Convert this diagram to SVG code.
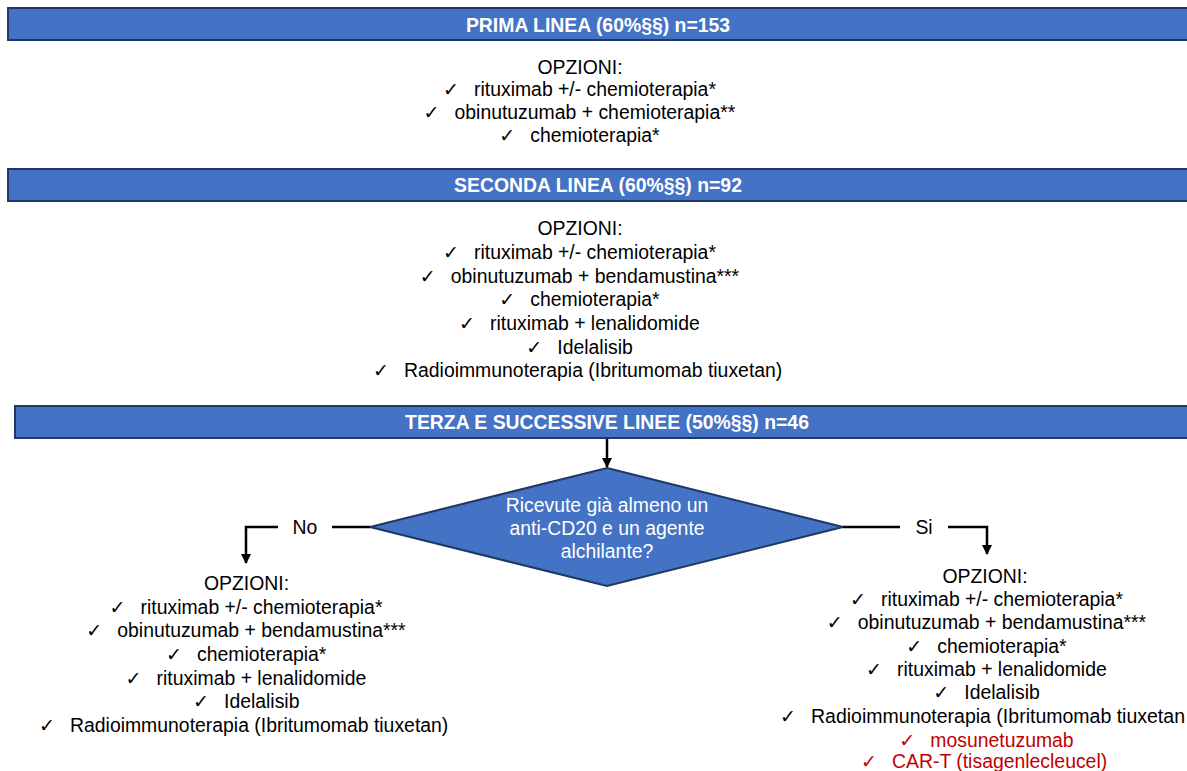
<svg xmlns="http://www.w3.org/2000/svg" width="1187" height="771" viewBox="0 0 1187 771">
<defs>
<marker id="arr" markerWidth="10" markerHeight="10" refX="9" refY="5" orient="auto" markerUnits="userSpaceOnUse">
<path d="M0,0 L10,5 L0,10 Z" fill="#000"/>
</marker>
<style>
.bar{fill:#4472C4;stroke:#1F3864;stroke-width:2}
.bt{font-family:"Liberation Sans",Arial,sans-serif;font-size:19.4px;font-weight:bold;fill:#fff;text-anchor:middle}
.t{font-family:"Liberation Sans",Arial,sans-serif;font-size:19.4px;fill:#000}
.c{font-family:"Liberation Sans",Arial,sans-serif;font-size:19.4px;fill:#000;text-anchor:middle}
.w{font-family:"Liberation Sans",Arial,sans-serif;font-size:19.4px;fill:#fff;text-anchor:middle}
.ck{font-family:"DejaVu Sans",sans-serif;font-size:19px;fill:#000}
.red{fill:#C00000}
.ln{fill:none;stroke:#000;stroke-width:2.5}
</style>
</defs>
<rect width="1187" height="771" fill="#fff"/>

<g id="bar1">
<rect class="bar" x="8" y="8" width="1190" height="32"/>
<text class="bt" x="598" y="32">PRIMA LINEA (60%§§) n=153</text>
</g>

<g id="options1">
<text class="c" x="580" y="74">OPZIONI:</text>
<text class="ck" x="443" y="96">✓</text><text class="t" x="474" y="96">rituximab +/- chemioterapia*</text>
<text class="ck" x="423.5" y="119">✓</text><text class="t" x="454.5" y="119">obinutuzumab + chemioterapia**</text>
<text class="ck" x="499.3" y="142">✓</text><text class="t" x="530.3" y="142">chemioterapia*</text>
</g>

<g id="bar2">
<rect class="bar" x="8" y="169" width="1190" height="32"/>
<text class="bt" x="598" y="192">SECONDA LINEA (60%§§) n=92</text>
</g>

<g id="options2">
<text class="c" x="580" y="235">OPZIONI:</text>
<text class="ck" x="443" y="259">✓</text><text class="t" x="474" y="259">rituximab +/- chemioterapia*</text>
<text class="ck" x="419.8" y="283">✓</text><text class="t" x="450.8" y="283">obinutuzumab + bendamustina***</text>
<text class="ck" x="499.3" y="306">✓</text><text class="t" x="530.3" y="306">chemioterapia*</text>
<text class="ck" x="459.1" y="330">✓</text><text class="t" x="490.1" y="330">rituximab + lenalidomide</text>
<text class="ck" x="526.3" y="354">✓</text><text class="t" x="557.3" y="354">Idelalisib</text>
<text class="ck" x="373" y="377">✓</text><text class="t" x="404" y="377">Radioimmunoterapia (Ibritumomab tiuxetan)</text>
</g>

<g id="bar3">
<rect class="bar" x="15" y="406" width="1190" height="32"/>
<text class="bt" x="607" y="429">TERZA E SUCCESSIVE LINEE (50%§§) n=46</text>
</g>

<g id="decision">
<polygon points="607,468 843,527 607,586 370,527" fill="#4472C4" stroke="#1F3864" stroke-width="2"/>
<text class="w" x="607" y="512">Ricevute già almeno un</text>
<text class="w" x="607" y="535">anti-CD20 e un agente</text>
<text class="w" x="607" y="558">alchilante?</text>
</g>

<g id="connectors">
<line class="ln" x1="607" y1="439" x2="607" y2="467" marker-end="url(#arr)"/>
<line class="ln" x1="370" y1="527" x2="332" y2="527"/>
<polyline class="ln" points="278,527 246,527 246,563" marker-end="url(#arr)"/>
<line class="ln" x1="843" y1="527" x2="900" y2="527"/>
<polyline class="ln" points="948,527 987,527 987,554" marker-end="url(#arr)"/>
<text class="c" x="305" y="534">No</text>
<text class="c" x="924" y="534">Si</text>
</g>

<g id="options-no">
<text class="c" x="246.5" y="590">OPZIONI:</text>
<text class="ck" x="109.5" y="614">✓</text><text class="t" x="140.5" y="614">rituximab +/- chemioterapia*</text>
<text class="ck" x="86.3" y="637">✓</text><text class="t" x="117.3" y="637">obinutuzumab + bendamustina***</text>
<text class="ck" x="166" y="661">✓</text><text class="t" x="197" y="661">chemioterapia*</text>
<text class="ck" x="125.6" y="685">✓</text><text class="t" x="156.6" y="685">rituximab + lenalidomide</text>
<text class="ck" x="193" y="708">✓</text><text class="t" x="224" y="708">Idelalisib</text>
<text class="ck" x="39" y="732">✓</text><text class="t" x="70" y="732">Radioimmunoterapia (Ibritumomab tiuxetan)</text>
</g>

<g id="options-si">
<text class="c" x="985" y="583">OPZIONI:</text>
<text class="ck" x="850" y="606">✓</text><text class="t" x="881" y="606">rituximab +/- chemioterapia*</text>
<text class="ck" x="826.8" y="629">✓</text><text class="t" x="857.8" y="629">obinutuzumab + bendamustina***</text>
<text class="ck" x="906.3" y="653">✓</text><text class="t" x="937.3" y="653">chemioterapia*</text>
<text class="ck" x="866.1" y="676">✓</text><text class="t" x="897.1" y="676">rituximab + lenalidomide</text>
<text class="ck" x="933.3" y="699">✓</text><text class="t" x="964.3" y="699">Idelalisib</text>
<text class="ck" x="780" y="723">✓</text><text class="t" x="811" y="723" textLength="374" lengthAdjust="spacingAndGlyphs">Radioimmunoterapia (Ibritumomab tiuxetan</text>
<text class="ck red" x="899.3" y="747">✓</text><text class="t red" x="930.3" y="747">mosunetuzumab</text>
<text class="ck red" x="861" y="768">✓</text><text class="t red" x="892" y="768">CAR-T (tisagenlecleucel)</text>
</g>
</svg>
